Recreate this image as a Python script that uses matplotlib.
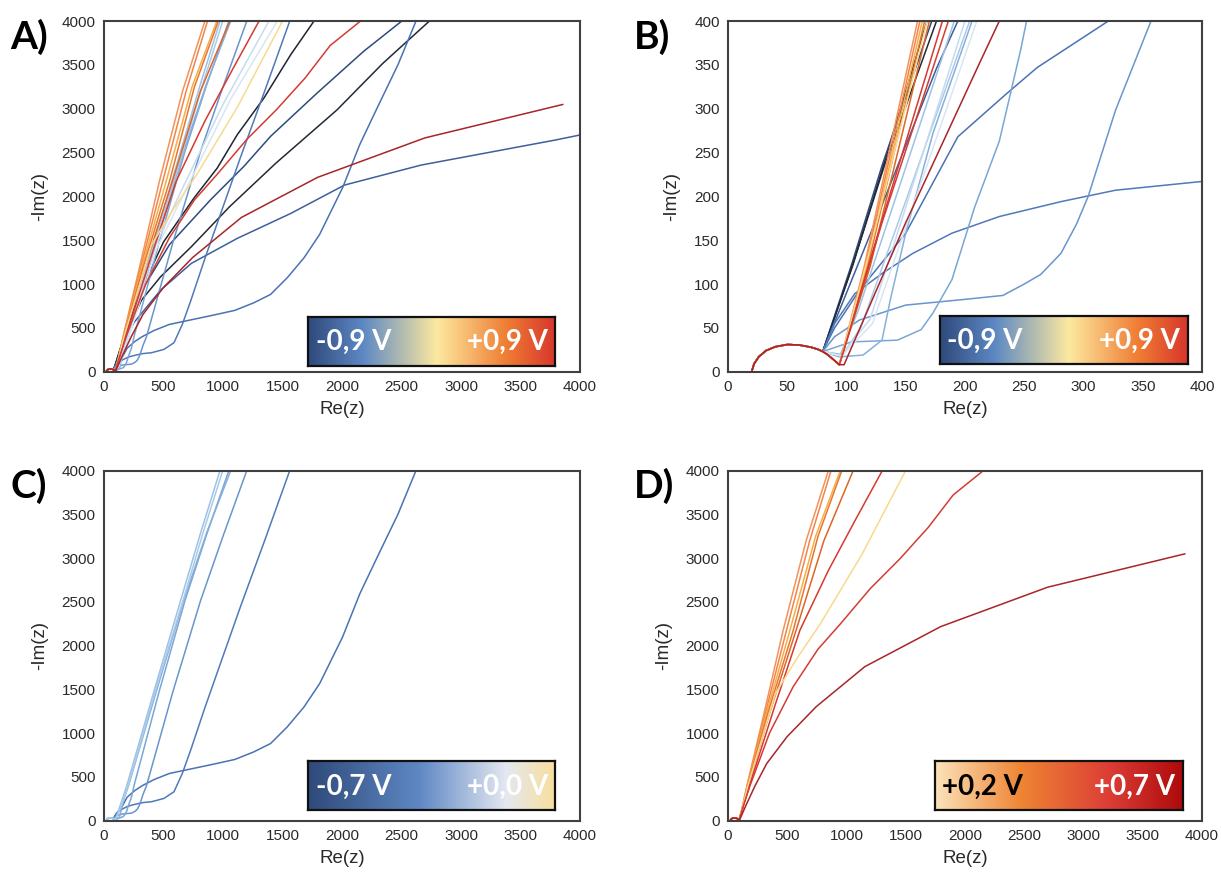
import numpy as np
import matplotlib.pyplot as plt
from matplotlib.colors import LinearSegmentedColormap

plt.rcParams['font.family'] = ['Liberation Sans', 'DejaVu Sans']

# ---------------------------------------------------------------------------
# Nyquist data. Every spectrum shares the high-frequency
# semicircle; negative potentials leave it near Re=80, positive ones near Re=94.
# ---------------------------------------------------------------------------
semi_x = [20, 22, 26, 32, 40, 50, 60, 70, 76, 80]
semi_y = [0, 9, 17, 24, 28.5, 31, 30.5, 28, 25.5, 23]
semi_x_pos = [84, 88, 91, 94]
semi_y_pos = [19.5, 15, 11.5, 8]

# -0,9 / -0,8 V
k1_x = [105, 130, 168, 300, 500, 756, 952, 1120, 1344, 1569, 1765]
k1_y = [120, 230, 400, 900, 1480, 1981, 2324, 2704, 3122, 3616, 4000]
k2_x = [105, 130, 172, 350, 550, 896, 1176, 1400, 1793, 2185, 2503]
k2_y = [125, 235, 400, 1000, 1450, 1962, 2343, 2685, 3181, 3658, 4000]
k3_x = [106, 132, 176, 315, 476, 734, 1055, 1442, 1957, 2343, 2735]
k3_y = [125, 235, 400, 817, 1084, 1426, 1882, 2376, 2985, 3517, 4000]
k4_x = [130, 176, 194, 251, 476, 734, 1120, 1570, 2021, 2665, 3791, 4000]
k4_y = [190, 346, 400, 560, 931, 1236, 1521, 1806, 2129, 2357, 2642, 2700]

# -0,7 ... 0,0 V
s_x = [90, 111, 150, 194, 235, 261, 321, 420, 550, 672, 900, 1100, 1260, 1400, 1540, 1681, 1812, 2005, 2150, 2310, 2470, 2622]
s_y = [50, 93, 158, 268, 317, 347, 400, 470, 540, 575, 640, 700, 787, 882, 1072, 1300, 1566, 2099, 2593, 3050, 3500, 4000]
p_x = [90, 107, 130, 156, 189, 229, 281, 327, 400, 504, 588, 658, 728, 850, 1000, 1148, 1350, 1561]
p_y = [55, 89, 112, 135, 158, 177, 194, 207, 217, 255, 331, 540, 806, 1300, 1880, 2450, 3200, 4000]
lb2_x = [90, 111, 150, 196, 232, 250, 264, 281, 294, 304, 327, 357, 580, 812, 1000, 1200]
lb2_y = [40, 59, 76, 82, 87, 100, 111, 135, 168, 200, 298, 400, 1480, 2517, 3250, 4000]
lb1_x = [104, 143, 163, 173, 189, 208, 229, 247, 252, 460, 681, 860, 1049]
lb1_y = [34, 36, 48, 67, 105, 187, 263, 367, 400, 1460, 2517, 3260, 4000]
lb3_x = [94, 114, 130, 137, 150, 173, 206, 440, 670, 860, 1065]
lb3_y = [17, 19, 36, 82, 158, 272, 400, 1480, 2517, 3280, 4000]
lc1_x = [95, 110, 191, 420, 644, 810, 975]
lc1_y = [20, 70, 400, 1480, 2517, 3280, 4000]
lc2_x = [96, 112, 204, 430, 664, 830, 998]
lc2_y = [18, 50, 400, 1480, 2517, 3280, 4000]
# near 0 V (very pale, only noticeable in the full-range panels)
lp1_x = [95, 120, 200, 420, 620, 1000, 1386]
lp1_y = [18, 60, 400, 1400, 1980, 3050, 4000]
lp2_x = [96, 122, 210, 440, 660, 1060, 1457]
lp2_y = [18, 55, 400, 1400, 2000, 3100, 4000]

# +0,2 ... +0,7 V
d1_x = [115, 160, 300, 466, 660, 848]
d1_y = [120, 400, 1200, 2175, 3200, 4000]
d2_x = [116, 162, 310, 494, 690, 870]
d2_y = [120, 400, 1200, 2175, 3200, 4000]
d3_x = [117, 164, 320, 523, 740, 948]
d3_y = [120, 400, 1200, 2175, 3250, 4000]
d4_x = [118, 166, 330, 551, 760, 961]
d4_y = [120, 400, 1200, 2175, 3250, 4000]
d5_x = [120, 170, 345, 575, 810, 1057]
d5_y = [120, 400, 1200, 2175, 3200, 4000]
r1_x = [125, 181, 400, 607, 848, 1073, 1303]
r1_y = [150, 400, 1330, 2175, 2860, 3430, 4000]
y1_x = [120, 168, 400, 580, 780, 1130, 1500]
y1_y = [140, 400, 1450, 1850, 2250, 3040, 4000]
r2_x = [130, 186, 350, 550, 760, 950, 1200, 1450, 1690, 1900, 2156]
r2_y = [170, 400, 1000, 1530, 1960, 2250, 2650, 2990, 3350, 3720, 4000]
rl_x = [98, 150, 213, 229, 328, 499, 745, 1155, 1795, 2697, 3855]
rl_y = [8, 170, 354, 400, 655, 960, 1303, 1760, 2217, 2667, 3048]

# ---------------------------------------------------------------------------
# styles
# ---------------------------------------------------------------------------
neg_dark = [(k1_x, k1_y, '#1d2532'), (k2_x, k2_y, '#2f4b7b'),
            (k3_x, k3_y, '#222a38'), (k4_x, k4_y, '#3e5f9c')]
neg_mid = [(s_x, s_y, '#4a72b3'), (p_x, p_y, '#4f79b9'), (lb2_x, lb2_y, '#6a95cc'),
           (lb1_x, lb1_y, '#7aa6d6'), (lb3_x, lb3_y, '#86afdc'), (lc1_x, lc1_y, '#9cc2e5'),
           (lc2_x, lc2_y, '#a9cbe9')]
neg_pale = [(lp1_x, lp1_y, '#c5dbee'), (lp2_x, lp2_y, '#d8e6f3')]
pos = [(d1_x, d1_y, '#f4925a'), (d2_x, d2_y, '#f2844a'), (d3_x, d3_y, '#f6ad46'),
       (d4_x, d4_y, '#e8762c'), (d5_x, d5_y, '#dd6526'), (r1_x, r1_y, '#d6392e'),
       (y1_x, y1_y, '#f8d98e'), (r2_x, r2_y, '#d33c33'), (rl_x, rl_y, '#a8252a')]

cmap_full = LinearSegmentedColormap.from_list('full', [(0, '#2f4a7c'), (0.22, '#5d88c4'), (0.52, '#fde9a0'),
                                                         (0.8, '#ef7d34'), (1, '#d8362c')])
cmap_neg = LinearSegmentedColormap.from_list('neg', [(0, '#2f4a7a'), (0.45, '#5f88c4'), (0.8, '#e4e8f1'),
                                                       (1, '#f8df9b')])
cmap_pos = LinearSegmentedColormap.from_list('pos', [(0, '#fbe3ba'), (0.35, '#ee8433'), (0.7, '#dc3e36'),
                                                       (1, '#ae0a0c')])


def curve(tx, ty, positive):
    if positive:
        return semi_x + semi_x_pos + tx, semi_y + semi_y_pos + ty
    return semi_x + tx, semi_y + ty


def draw_panel(rect, letter, lim, step, groups, cmap, lo_txt, hi_txt, lo_col, box):
    ax = fig.add_axes(rect)
    for items, positive in groups:
        for tx, ty, col in items:
            x, y = curve(tx, ty, positive)
            ax.plot(x, y, color=col, lw=1.1, solid_joinstyle='round')
    ax.set_xlim(0, lim)
    ax.set_ylim(0, lim)
    ax.set_xticks(np.arange(0, lim + 1, step))
    ax.set_yticks(np.arange(0, lim + 1, step))
    ax.tick_params(length=0, pad=6, labelsize=11, colors='#2a2a2a')
    for sp in ax.spines.values():
        sp.set_color('#404040')
        sp.set_linewidth(1.5)
    ax.set_xlabel('Re(z)', fontsize=13.5, color='#2a2a2a', labelpad=5)
    ax.set_ylabel('-Im(z)', fontsize=13.5, color='#2a2a2a', labelpad=10)
    # colour-scale box
    cb = ax.inset_axes(box)
    cb.imshow(np.linspace(0, 1, 256)[None, :], aspect='auto', cmap=cmap, extent=[0, 1, 0, 1])
    cb.set_xticks([])
    cb.set_yticks([])
    for sp in cb.spines.values():
        sp.set_color('#111111')
        sp.set_linewidth(1.6)
    cb.text(0.03, 0.48, lo_txt, transform=cb.transAxes, ha='left', va='center', color=lo_col,
            fontsize=20, fontweight='bold', family='Lato')
    cb.text(0.97, 0.48, hi_txt, transform=cb.transAxes, ha='right', va='center', color='white',
            fontsize=20, fontweight='bold', family='Lato')
    fig.text(rect[0] - 0.077, rect[1] + rect[3] + 0.003, letter, ha='left', va='top', fontsize=28,
             fontweight='bold', family='Lato', color='black')
    return ax


fig = plt.figure(figsize=(12.21, 8.72), dpi=100)
all_groups = [(neg_dark, False), (neg_mid, False), (neg_pale, False), (pos, True)]

draw_panel([0.0852, 0.5737, 0.3898, 0.4022], 'A)', 4000, 500, all_groups, cmap_full,
           '-0,9 V', '+0,9 V', 'white', [0.429, 0.017, 0.519, 0.140])
draw_panel([0.5962, 0.5737, 0.3882, 0.4022], 'B)', 400, 50, all_groups, cmap_full,
           '-0,9 V', '+0,9 V', 'white', [0.447, 0.021, 0.523, 0.138])
draw_panel([0.0852, 0.0588, 0.3898, 0.4016], 'C)', 4000, 500, [(neg_mid, False)], cmap_neg,
           '-0,7 V', '+0,0 V', 'white', [0.429, 0.030, 0.519, 0.140])
draw_panel([0.5962, 0.0588, 0.3882, 0.4016], 'D)', 4000, 500, [(pos, True)], cmap_pos,
           '+0,2 V', '+0,7 V', 'black', [0.436, 0.030, 0.523, 0.140])

fig.savefig('out.png', dpi=100)
